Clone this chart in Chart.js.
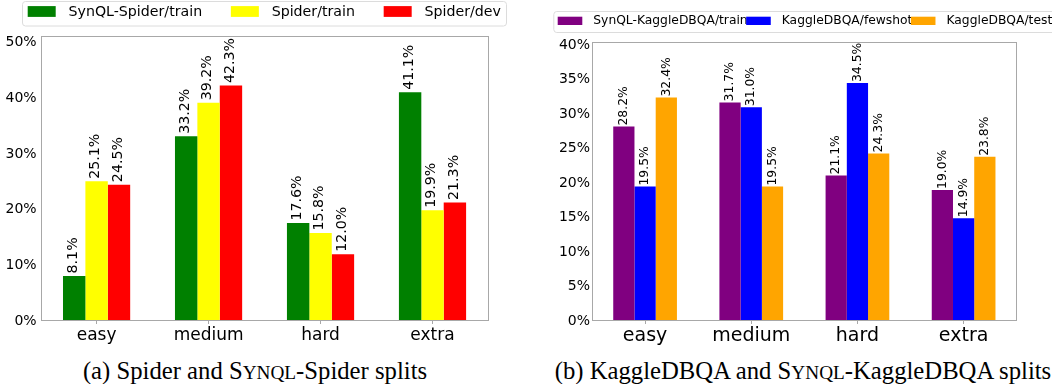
<!DOCTYPE html>
<html><head><meta charset="utf-8">
<script src="https://cdn.jsdelivr.net/npm/chart.js@4.4.0/dist/chart.umd.min.js"></script>
<style>
html,body{margin:0;padding:0;background:#fff;overflow:hidden;width:1052px;height:384px;}
canvas{position:absolute;top:0;}
#c1{left:0}
#c2{left:530px}
.cap{position:absolute;top:358px;font-family:'Liberation Serif','Times New Roman',serif;font-size:24.7px;line-height:25px;color:#000;white-space:nowrap;transform:translateX(-50%);}
.sc{font-size:0.78em}
</style></head><body>
<canvas id="c1" width="530" height="345"></canvas>
<canvas id="c2" width="522" height="345"></canvas>
<div class="cap" style="left:255px">(a) Spider and S<span class="sc">YNQL</span>-Spider splits</div>
<div class="cap" style="left:803px">(b) KaggleDBQA and S<span class="sc">YNQL</span>-KaggleDBQA splits</div>
<script>
// ---- data ----
const categories = ['easy', 'medium', 'hard', 'extra'];

const spiderSeriesNames = ['SynQL-Spider/train', 'Spider/train', 'Spider/dev'];
const synqlSpiderTrain = [8.1, 33.2, 17.6, 41.1];
const spiderTrain = [25.1, 39.2, 15.8, 19.9];
const spiderDev = [24.5, 42.3, 12.0, 21.3];
const spiderYTicks = [0, 10, 20, 30, 40, 50];

const kaggleSeriesNames = ['SynQL-KaggleDBQA/train', 'KaggleDBQA/fewshot', 'KaggleDBQA/test'];
const synqlKaggleTrain = [28.2, 31.7, 21.1, 19.0];
const kaggleFewshot = [19.5, 31.0, 34.5, 14.9];
const kaggleTest = [32.4, 19.5, 24.3, 23.8];
const kaggleYTicks = [0, 5, 10, 15, 20, 25, 30, 35, 40];

const FONT = '"DejaVu Sans", sans-serif';

// ---- plugins ----
const framePlugin = {
  id: 'axesFrame',
  afterDatasetsDraw(chart) {
    const a = chart.chartArea, ctx = chart.ctx;
    ctx.save();
    ctx.strokeStyle = '#a8a8a8';
    ctx.lineWidth = 1;
    const l = Math.round(a.left) + 0.5, t = Math.round(a.top) + 0.5;
    const r = Math.round(a.right) - 0.5, b = Math.round(a.bottom) - 0.5;
    ctx.strokeRect(l, t, r - l, b - t);
    ctx.restore();
  }
};

const labelPlugin = {
  id: 'barLabels',
  afterDatasetsDraw(chart, args, o) {
    const ctx = chart.ctx;
    ctx.save();
    ctx.font = o.fontSize + 'px ' + FONT;
    ctx.fillStyle = '#000';
    ctx.textAlign = 'left';
    ctx.textBaseline = 'middle';
    chart.data.datasets.forEach((ds, i) => {
      const meta = chart.getDatasetMeta(i);
      meta.data.forEach((el, j) => {
        ctx.save();
        ctx.translate(el.x + o.dx, el.y - o.gap);
        ctx.rotate(-Math.PI / 2);
        ctx.fillText(ds.data[j].toFixed(1) + '%', 0, 0);
        ctx.restore();
      });
    });
    ctx.restore();
  }
};

const legendPlugin = {
  id: 'boxLegend',
  afterDraw(chart, args, o) {
    const ctx = chart.ctx;
    ctx.save();
    const f = o.frame;
    ctx.beginPath();
    ctx.roundRect(f.x + 0.5, f.y + 0.5, f.w, f.h, 3);
    ctx.fillStyle = 'rgba(255,255,255,0.8)';
    ctx.fill();
    ctx.strokeStyle = '#dcdcdc';
    ctx.lineWidth = 1;
    ctx.stroke();
    ctx.font = o.fontSize + 'px ' + FONT;
    ctx.textAlign = 'left';
    ctx.textBaseline = 'middle';
    let x = o.x;
    chart.data.datasets.forEach(ds => {
      ctx.fillStyle = ds.backgroundColor;
      ctx.fillRect(x, o.boxY, o.boxW, o.boxH);
      x += o.boxW + o.gap;
      ctx.fillStyle = '#000';
      ctx.fillText(ds.label, x, o.textY);
      x += ctx.measureText(ds.label).width + o.itemGap;
    });
    ctx.restore();
  }
};

function makeChart(id, names, series, colors, yTicks, yMax, cfg) {
  return new Chart(document.getElementById(id), {
    type: 'bar',
    data: {
      labels: categories,
      datasets: series.map((s, i) => ({
        label: names[i],
        data: s,
        backgroundColor: colors[i],
        borderWidth: 0,
        barPercentage: 1.0,
        categoryPercentage: 0.6
      }))
    },
    plugins: [framePlugin, labelPlugin, legendPlugin],
    options: {
      responsive: false,
      animation: false,
      devicePixelRatio: 1,
      layout: { padding: { top: cfg.top, right: cfg.right, left: 0, bottom: 0 } },
      scales: {
        x: {
          grid: { display: true, drawOnChartArea: false, drawTicks: true, tickLength: 3, offset: false, color: '#a8a8a8' },
          border: { display: false },
          ticks: { font: { family: FONT, size: cfg.xFont }, color: '#000', padding: cfg.xPad, maxRotation: 0, autoSkip: false },
          afterFit: s => { s.height = 24; }
        },
        y: {
          min: 0,
          max: yMax,
          afterBuildTicks: s => { s.ticks = yTicks.map(v => ({ value: v })); },
          grid: { display: false, drawTicks: false, tickLength: 0 },
          border: { display: false },
          ticks: { font: { family: FONT, size: 14 }, color: '#000', padding: cfg.yPad, callback: v => v + '%' },
          afterFit: s => { s.width = cfg.yWidth; }
        }
      },
      plugins: {
        legend: { display: false },
        tooltip: { enabled: false },
        barLabels: cfg.labels,
        boxLegend: cfg.legend
      }
    }
  });
}

makeChart('c1', spiderSeriesNames, [synqlSpiderTrain, spiderTrain, spiderDev],
  ['#008000', '#ffff00', '#ff0000'], spiderYTicks, 51.3, {
    top: 35.5, right: 41.5, yWidth: 40.6, yPad: 4, xFont: 17, xPad: 1,
    labels: { fontSize: 14.2, gap: 2.5, dx: -1 },
    legend: { frame: { x: 22, y: 1, w: 484, h: 24.5 }, x: 27.7, boxY: 6.1, boxW: 28, boxH: 10.8, gap: 12.8, itemGap: 28.7, textY: 12.5, fontSize: 14.2 }
  });

makeChart('c2', kaggleSeriesNames, [synqlKaggleTrain, kaggleFewshot, kaggleTest],
  ['#800080', '#0000ff', '#ffa500'], kaggleYTicks, 40.5, {
    top: 41.7, right: 35.3, yWidth: 62, yPad: 2, xFont: 19, xPad: 1,
    labels: { fontSize: 12.4, gap: 1, dx: 0 },
    legend: { frame: { x: 23.3, y: 11, w: 520, h: 21 }, x: 27.7, boxY: 16.7, boxW: 24.6, boxH: 8.3, gap: 11, itemGap: -1.5, textY: 21, fontSize: 12.3 }
  });
</script>
</body></html>
